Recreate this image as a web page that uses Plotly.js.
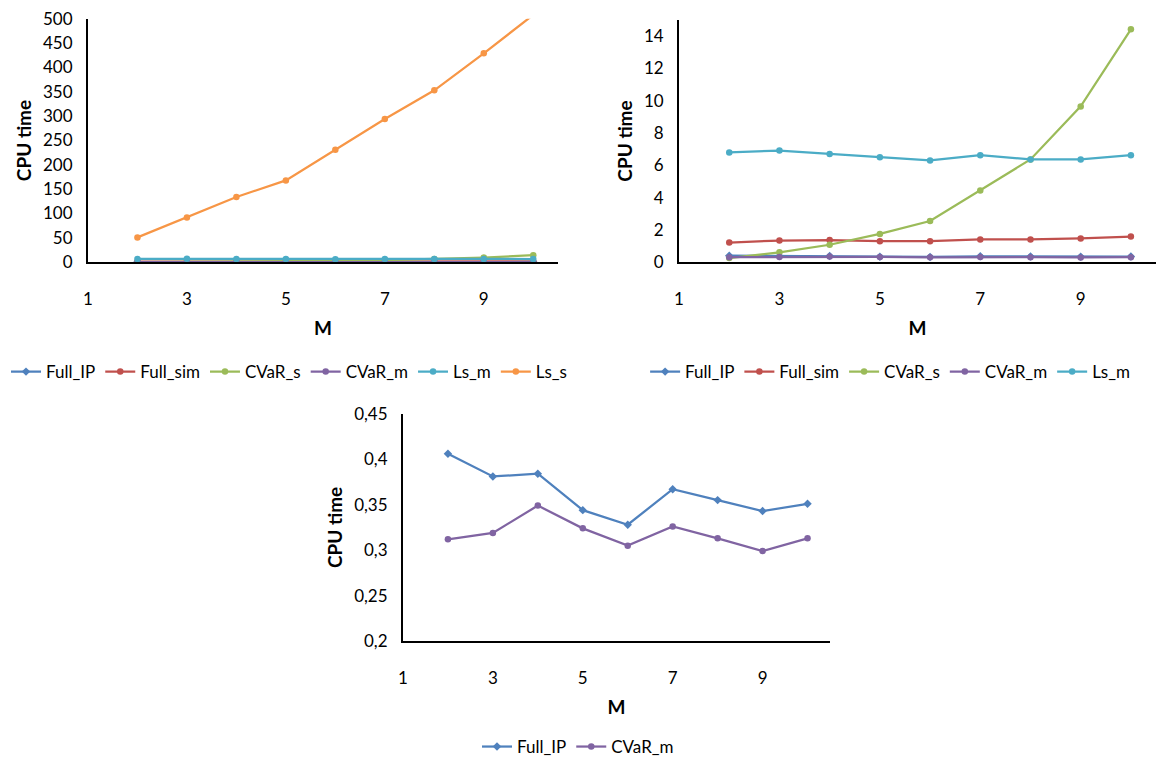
<!DOCTYPE html>
<html>
<head>
<meta charset="utf-8">
<script src="https://cdn.plot.ly/plotly-3.0.1.min.js"></script>
<style>html,body{margin:0;padding:0;background:#fff;}#chart{width:1156px;height:765px;}</style>
</head>
<body>
<div id="chart"></div>
<script>
// ---- data ----
const M = [2, 3, 4, 5, 6, 7, 8, 9, 10];
const Full_IP  = [0.406, 0.381, 0.384, 0.344, 0.328, 0.367, 0.355, 0.343, 0.351];
const Full_sim = [1.22, 1.34, 1.37, 1.30, 1.30, 1.41, 1.41, 1.47, 1.59];
const CVaR_s   = [0.26, 0.61, 1.08, 1.75, 2.55, 4.44, 6.36, 9.64, 14.41];
const CVaR_m   = [0.312, 0.319, 0.349, 0.324, 0.305, 0.326, 0.313, 0.299, 0.313];
const Ls_m     = [6.79, 6.91, 6.70, 6.50, 6.30, 6.62, 6.36, 6.36, 6.62];
const Ls_s     = [51, 92, 134, 168, 231, 294, 353, 429, 508];
const xTicks = [1, 3, 5, 7, 9];
const yTicksA = [0, 50, 100, 150, 200, 250, 300, 350, 400, 450, 500];
const yTicksB = [0, 2, 4, 6, 8, 10, 12, 14];
const yTicksC = [0.2, 0.25, 0.3, 0.35, 0.4, 0.45];
const yTicksCText = ["0,2", "0,25", "0,3", "0,35", "0,4", "0,45"];

const colors = {
  Full_IP: '#4F81BD', Full_sim: '#C0504D', CVaR_s: '#9BBB59',
  CVaR_m: '#8064A2', Ls_m: '#4BACC6', Ls_s: '#F79646'
};
const series = {Full_IP, Full_sim, CVaR_s, CVaR_m, Ls_m, Ls_s};

function tr(name, xa, ya, leg) {
  return {
    x: M, y: series[name], name: name, type: 'scatter', mode: 'lines+markers',
    xaxis: xa, yaxis: ya, legend: leg,
    line: {color: colors[name], width: 2.25},
    marker: {color: colors[name], size: 6.5, symbol: name === 'Full_IP' ? 'diamond' : 'circle'},
    cliponaxis: true
  };
}

const data = [];
['Full_IP','Full_sim','CVaR_s','CVaR_m','Ls_m','Ls_s'].forEach(n => data.push(tr(n, 'x', 'y', 'legend')));
['Full_IP','Full_sim','CVaR_s','CVaR_m','Ls_m'].forEach(n => data.push(tr(n, 'x2', 'y2', 'legend2')));
['Full_IP','CVaR_m'].forEach(n => data.push(tr(n, 'x3', 'y3', 'legend3')));

const font = 'Lato, "Open Sans", "DejaVu Sans", sans-serif';
function xaxis(domain, anchor) {
  return {
    domain: domain, anchor: anchor, range: [1, 10.5], tickvals: xTicks,
    showline: true, linecolor: '#000', linewidth: 2, showgrid: false, zeroline: false,
    ticks: 'outside', ticklen: 20, tickcolor: 'rgba(0,0,0,0)',
    tickfont: {family: font, size: 17, color: '#000'},
    title: {text: 'M', font: {family: font, size: 19, color: '#000', weight: 'bold'}, standoff: 14},
    fixedrange: true
  };
}
function yaxis(domain, anchor, range, vals, text) {
  const a = {
    domain: domain, anchor: anchor, range: range, tickvals: vals,
    showline: true, linecolor: '#000', linewidth: 2, showgrid: false, zeroline: false,
    ticks: 'outside', ticklen: 10, tickcolor: 'rgba(0,0,0,0)',
    tickfont: {family: font, size: 17, color: '#000'},
    title: {text: 'CPU time', font: {family: font, size: 19, color: '#000', weight: 'bold'}, standoff: 6},
    fixedrange: true
  };
  if (text) a.ticktext = text;
  return a;
}

const legFont = {family: font, size: 17, color: '#000'};
const layout = {
  width: 1156, height: 765,
  margin: {l: 0, r: 0, t: 0, b: 0},
  paper_bgcolor: '#fff', plot_bgcolor: '#fff',
  showlegend: true,
  xaxis: xaxis([0.0761, 0.4827], 'y'),
  yaxis: yaxis([0.6536, 0.9752], 'x', [0, 500], yTicksA),
  xaxis2: xaxis([0.5874, 1.0], 'y2'),
  yaxis2: yaxis([0.6536, 0.9739], 'x2', [0, 15], yTicksB),
  xaxis3: xaxis([0.3486, 0.7180], 'y3'),
  yaxis3: yaxis([0.1529, 0.4536], 'x3', [0.2, 0.45], yTicksC, yTicksCText),
  legend: {orientation: 'h', x: 0.25, xanchor: 'center', y: 0.5085, yanchor: 'middle', font: legFont, bgcolor: 'rgba(0,0,0,0)', itemwidth: 30},
  legend2: {orientation: 'h', x: 0.77, xanchor: 'center', y: 0.5085, yanchor: 'middle', font: legFont, bgcolor: 'rgba(0,0,0,0)', itemwidth: 30},
  legend3: {orientation: 'h', x: 0.5, xanchor: 'center', y: 0.013, yanchor: 'middle', font: legFont, bgcolor: 'rgba(0,0,0,0)', itemwidth: 30}
};

Plotly.newPlot('chart', data, layout, {displayModeBar: false, staticPlot: true});
</script>
</body>
</html>
